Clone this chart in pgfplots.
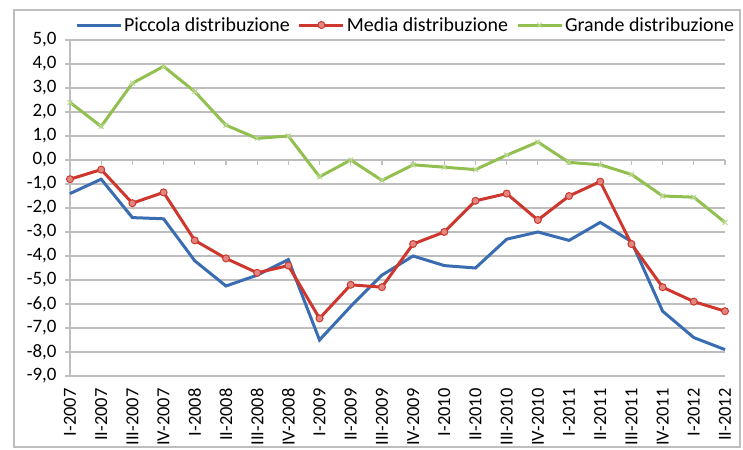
\documentclass[border=0pt]{standalone}
\usepackage{pgfplots}
\pgfplotsset{compat=1.18}
\usepackage{fontspec}
\setmainfont{Carlito}
\definecolor{cblue}{RGB}{58,108,178}
\definecolor{cred}{RGB}{205,55,45}
\definecolor{cgreen}{RGB}{146,192,80}
\definecolor{cgrid}{RGB}{190,190,190}
\begin{document}
\begin{tikzpicture}
\path[use as bounding box] (0bp,0bp) rectangle (743bp,450bp);
\draw[cgrid, line width=1.5bp] (14bp,3bp) rectangle (740bp,440bp);
\begin{axis}[
  at={(70bp,74bp)}, anchor=south west,
  width=655bp, height=336bp, scale only axis,
  xmin=0, xmax=21, ymin=-9, ymax=5,
  ytick={-9,-8,...,5},
  xtick={0,...,21},
  xticklabels={I-2007,II-2007,III-2007,IV-2007,I-2008,II-2008,III-2008,IV-2008,I-2009,II-2009,III-2009,IV-2009,I-2010,II-2010,III-2010,IV-2010,I-2011,II-2011,III-2011,IV-2011,I-2012,II-2012},
  axis lines*=left,
  axis line style={-, cgrid, line width=1.5bp},
  ymajorgrids, grid style={cgrid, line width=1.5bp},
  tick align=outside,
  major tick length=5bp,
  xtick style={draw=none},
  ytick style={cgrid, line width=1.2bp},
  /pgf/number format/assume math mode=true,
  yticklabel shift=5bp,
  xticklabel shift=4bp,
  yticklabel style={font=\fontsize{19}{19}\selectfont, /pgf/number format/.cd, fixed, fixed zerofill, precision=1, use comma},
  xticklabel style={rotate=90, anchor=east, font=\fontsize{18.5}{18.5}\selectfont},
  legend style={at={(0.0076,1.0446)}, anchor=west, draw=none, fill=none, legend columns=-1,
    font=\fontsize{20}{20}\selectfont, /tikz/every even column/.append style={column sep=6bp},
    inner sep=0pt},
  legend image code/.code={\draw[mark repeat=2,mark phase=2,#1] plot coordinates {(0bp,0bp)(22bp,0bp)(44bp,0bp)};},
  clip=false,
]
\draw[cgrid, line width=1.5bp] (axis cs:0,0) -- (axis cs:21,0);
\pgfplotsinvokeforeach{1,...,21}{\draw[cgrid,line width=1.2bp] (axis cs:#1,0) -- ++(0bp,-5bp);}
\addplot[cblue, line width=3bp, no marks] coordinates {
(0,-1.4)(1,-0.8)(2,-2.4)(3,-2.45)(4,-4.2)(5,-5.25)(6,-4.8)(7,-4.15)(8,-7.5)(9,-6.1)(10,-4.8)
(11,-4.0)(12,-4.4)(13,-4.5)(14,-3.3)(15,-3.0)(16,-3.35)(17,-2.6)(18,-3.4)(19,-6.3)(20,-7.4)(21,-7.9)};
\addlegendentry{Piccola distribuzione}
\addplot[cred, line width=3bp, mark=*, mark size=3.5bp, mark options={fill=cred!60!white, draw=cred, line width=1bp}] coordinates {
(0,-0.8)(1,-0.4)(2,-1.8)(3,-1.35)(4,-3.35)(5,-4.1)(6,-4.7)(7,-4.4)(8,-6.6)(9,-5.2)(10,-5.3)
(11,-3.5)(12,-3.0)(13,-1.7)(14,-1.4)(15,-2.5)(16,-1.5)(17,-0.9)(18,-3.5)(19,-5.3)(20,-5.9)(21,-6.3)};
\addlegendentry{Media distribuzione}
\addplot[cgreen, line width=3bp, mark=x, mark size=3.5bp, mark options={cgreen!60!white, line width=1bp}] coordinates {
(0,2.4)(1,1.4)(2,3.2)(3,3.9)(4,2.85)(5,1.45)(6,0.9)(7,1.0)(8,-0.7)(9,0.0)(10,-0.85)
(11,-0.2)(12,-0.3)(13,-0.4)(14,0.2)(15,0.75)(16,-0.1)(17,-0.2)(18,-0.6)(19,-1.5)(20,-1.55)(21,-2.6)};
\addlegendentry{Grande distribuzione}
\end{axis}
\end{tikzpicture}
\end{document}
